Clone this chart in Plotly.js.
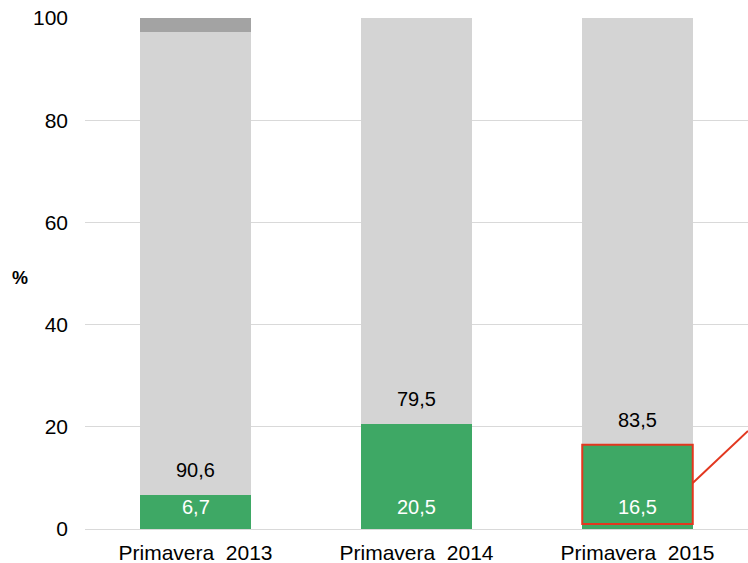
<!DOCTYPE html>
<html><head><meta charset="utf-8">
<script src="https://cdn.plot.ly/plotly-3.0.1.min.js"></script>
<style>html,body{margin:0;padding:0;background:#fff}</style>
</head><body><div id="chart" style="width:748px;height:563px"></div>
<script>
const categories = ["Primavera  2013", "Primavera  2014", "Primavera  2015"];
const greenValues = [6.7, 20.5, 16.5];
const lightGrayValues = [90.6, 79.5, 83.5];
const darkGrayValues = [2.7, 0, 0];
const labelFmt = v => v.toFixed(1).replace('.', ',');
const FONT = 'Liberation Sans, Arial, sans-serif';

const traces = [
  {type:'bar', x:categories, y:greenValues, marker:{color:'#3ea865'}, width:0.5, hoverinfo:'none'},
  {type:'bar', x:categories, y:lightGrayValues, marker:{color:'#d4d4d4'}, width:0.5, hoverinfo:'none'},
  {type:'bar', x:categories, y:darkGrayValues, marker:{color:'#a3a3a3'}, width:0.5, hoverinfo:'none'}
];

const annotations = [];
categories.forEach((c, i) => {
  annotations.push({x:c, y:0, xref:'x', yref:'y', text:labelFmt(greenValues[i]), showarrow:false,
    yanchor:'middle', yshift:22, font:{family:FONT, size:20, color:'#ffffff'}});
  annotations.push({x:c, y:greenValues[i], xref:'x', yref:'y', text:labelFmt(lightGrayValues[i]), showarrow:false,
    yanchor:'middle', yshift:25, font:{family:FONT, size:20, color:'#000000'}});
});
annotations.push({x:-0.098, y:0.492, xref:'paper', yref:'paper', text:'<b>%</b>', showarrow:false,
  font:{family:FONT, size:18, color:'#000'}, xanchor:'center', yanchor:'middle'});

const layout = {
  width:748, height:563, barmode:'stack', showlegend:false,
  margin:{l:85, r:0, t:18, b:34},
  paper_bgcolor:'#fff', plot_bgcolor:'#fff',
  xaxis:{type:'category', range:[-0.5, 2.5], showgrid:false, showline:true, linecolor:'#d9d9d9', linewidth:1,
    ticks:'', ticklabelstandoff:5, tickfont:{family:FONT, size:21, color:'#000'}, automargin:false, fixedrange:true},
  yaxis:{range:[0, 100], dtick:20, showgrid:true, gridcolor:'#d9d9d9', gridwidth:1, zeroline:false,
    ticks:'', ticklabelstandoff:16,
    tickfont:{family:FONT, size:21, color:'#000'}, automargin:false, fixedrange:true},
  annotations: annotations,
  shapes:[
    {type:'rect', xref:'x', yref:'y', x0:1.75, x1:2.25, y0:1, y1:greenValues[2], line:{color:'#e2371f', width:2}, fillcolor:'rgba(0,0,0,0)'},
    {type:'line', xref:'x', yref:'y', x0:2.25, y0:9, x1:2.5, y1:19.2, line:{color:'#e2371f', width:2}}
  ]
};
Plotly.newPlot('chart', traces, layout, {displayModeBar:false, staticPlot:true});
</script></body></html>
